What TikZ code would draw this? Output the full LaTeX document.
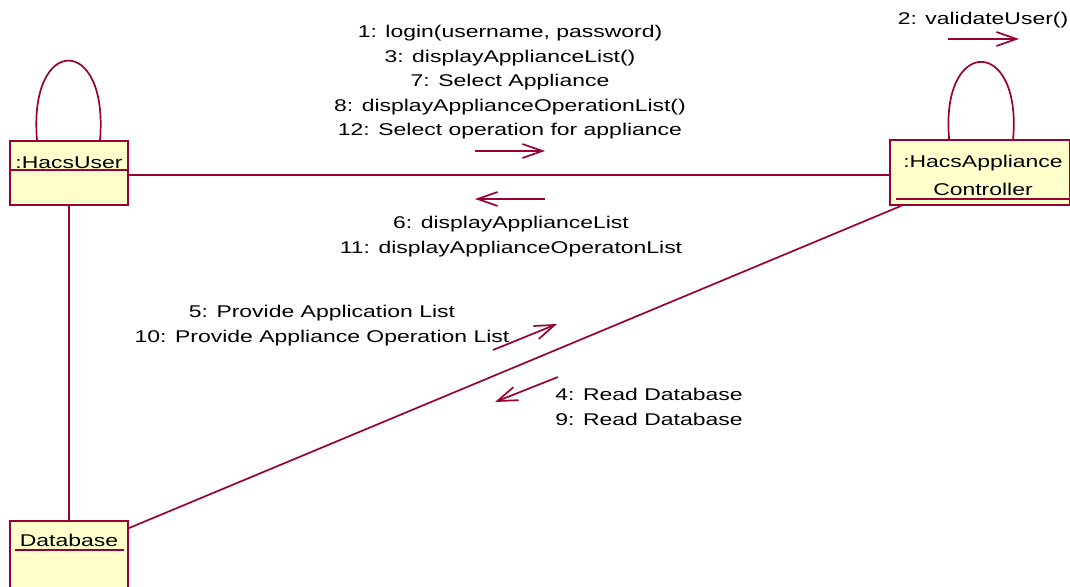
\documentclass[tikz,border=0pt]{standalone}
\usepackage{fontspec}
\setmainfont[FakeStretch=1.35]{Liberation Sans}
\usetikzlibrary{arrows.meta}
\definecolor{umlred}{HTML}{990033}
\definecolor{umlfill}{HTML}{FFFFCC}
\tikzstyle{objbox} = [draw=umlred, fill=umlfill, line width=1.8pt, rectangle, inner sep=0pt]
\tikzstyle{link} = [draw=umlred, line width=1.7pt]
\tikzstyle{msg} = [draw=umlred, line width=1.7pt, -{Straight Barb[length=20pt,width=14pt]}]
\tikzstyle{msgtext} = [align=center, inner sep=0pt, anchor=base]

\begin{document}
\begin{tikzpicture}[x=1pt, y=1pt, font=\fontsize{17}{24.4}\selectfont]
\useasboundingbox (0,0) rectangle (1070,586);
\node [objbox, minimum width=118pt, minimum height=64pt] (user) at (69,413) {};
\node [msgtext] (userName) at (69,417.3) {:HacsUser};
\draw [link] ([yshift=-30pt]user.north west) -- ([yshift=-30pt]user.north east);
\node [objbox, minimum width=179.5pt, minimum height=65pt] (ctrl) at (979.75,413.5) {};
\node [msgtext] (ctrlName) at (983,390) {:HacsAppliance\\[3.6pt]Controller};
\draw [link] ([xshift=7pt,yshift=7pt]ctrl.south west) -- ([xshift=-1.5pt,yshift=7pt]ctrl.south east);
\node [objbox, minimum width=118pt, minimum height=70pt] (db) at (69,30) {};
\node [msgtext] (dbName) at (69,39) {Database};
\draw [link] ([xshift=6pt,yshift=-30pt]db.north west) -- ([xshift=-5pt,yshift=-30pt]db.north east);
\draw [link] ([yshift=-2pt]user.east) -- ([yshift=-2.5pt]ctrl.west);
\draw [link] (user.south) -- (db.north);
\draw [link] ([xshift=12pt]ctrl.south west) -- ([yshift=-8pt]db.north east);
\draw [link] ([xshift=-32pt]user.north) .. controls +(-9,106) and +(9,106) .. ([xshift=31pt]user.north);
\draw [link] ([xshift=60pt]ctrl.north west) .. controls +(-9,103) and +(9,103) .. ([xshift=124pt]ctrl.north west);
\node [msgtext] (msgLogin) at (510,450.4) {1: login(username, password)\\3: displayApplianceList()\\7: Select Appliance\\8: displayApplianceOperationList()\\12: Select operation for appliance};
\node [msgtext] (msgValidate) at (983,561) {2: validateUser()};
\node [msgtext] (msgDisplay) at (511,332.6) {6: displayApplianceList\\11: displayApplianceOperatonList};
\node [msgtext] (msgProvide) at (322,243.6) {5: Provide Application List\\10: Provide Appliance Operation List};
\node [msgtext] (msgRead) at (649,160.6) {4: Read Database\\9: Read Database};
\coordinate (loginFrom) at (475,435);
\coordinate (loginTo) at (545,435);
\coordinate (displayFrom) at (545,387);
\coordinate (displayTo) at (475,387);
\coordinate (validateFrom) at (948,547);
\coordinate (validateTo) at (1019,547);
\coordinate (provideFrom) at (493,236);
\coordinate (provideTo) at (557,262);
\coordinate (readFrom) at (558,209);
\coordinate (readTo) at (495,184);
\draw [msg] (loginFrom) -- (loginTo);
\draw [msg] (displayFrom) -- (displayTo);
\draw [msg] (validateFrom) -- (validateTo);
\draw [msg] (provideFrom) -- (provideTo);
\draw [msg] (readFrom) -- (readTo);
\end{tikzpicture}
\end{document}
